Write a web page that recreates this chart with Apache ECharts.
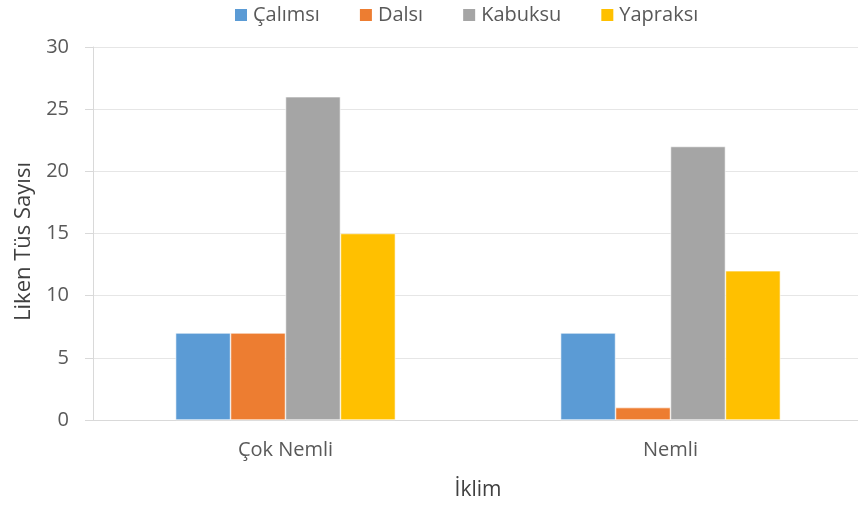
<!DOCTYPE html>
<html><head><meta charset="utf-8">
<script src="https://cdn.jsdelivr.net/npm/echarts@6/dist/echarts.min.js"></script>
<style>html,body{margin:0;padding:0;background:#fff}#c{width:858px;height:510px}</style>
</head><body><div id="c"></div>
<script>
const categories = ['Çok Nemli', 'Nemli'];
const seriesNames = ['Çalımsı', 'Dalsı', 'Kabuksu', 'Yapraksı'];
const calimsi = [7, 7];
const dalsi = [7, 1];
const kabuksu = [26, 22];
const yaprakli = [15, 12];
const values = [calimsi, dalsi, kabuksu, yaprakli];
const colors = ['#5B9BD5', '#ED7D31', '#A5A5A5', '#FFC000'];
const font = 'Open Sans, Liberation Sans, sans-serif';
const chart = echarts.init(document.getElementById('c'));
chart.setOption({
  animation: false,
  color: colors,
  textStyle: {fontFamily: font},
  legend: {
    top: 0, left: 228, itemWidth: 14, itemHeight: 14, itemGap: 38,
    icon: 'rect',
    textStyle: {fontSize: 20, color: '#595959', fontFamily: font},
    data: seriesNames
  },
  grid: {left: 93, width: 770, top: 47, bottom: 90, outerBoundsMode: 'none', containLabel: false},
  xAxis: {
    type: 'category', data: categories,
    axisLine: {lineStyle: {color: '#D9D9D9', width: 1}},
    axisTick: {show: false},
    axisLabel: {fontSize: 20, color: '#595959', margin: 20},
    name: 'İklim', nameLocation: 'middle', nameGap: 60,
    nameTextStyle: {fontSize: 21, color: '#404040'}
  },
  yAxis: {
    type: 'value', min: 0, max: 30, interval: 5,
    axisLine: {show: true, lineStyle: {color: '#D9D9D9'}},
    axisTick: {show: true, inside: false, length: 8, lineStyle: {color: '#D9D9D9'}},
    splitLine: {lineStyle: {color: '#E6E6E6'}},
    axisLabel: {fontSize: 20, color: '#595959', margin: 24},
    name: 'Liken Tüs Sayısı', nameLocation: 'middle', nameGap: 58,
    nameTextStyle: {fontSize: 22, color: '#404040', padding: [0, 16, 0, 0]}
  },
  series: seriesNames.map((n, i) => ({
    name: n, type: 'bar', data: values[i],
    barGap: '0%', barCategoryGap: '42.9%',
    itemStyle: {borderColor: '#fff', borderWidth: 0.6}
  }))
});
</script></body></html>
